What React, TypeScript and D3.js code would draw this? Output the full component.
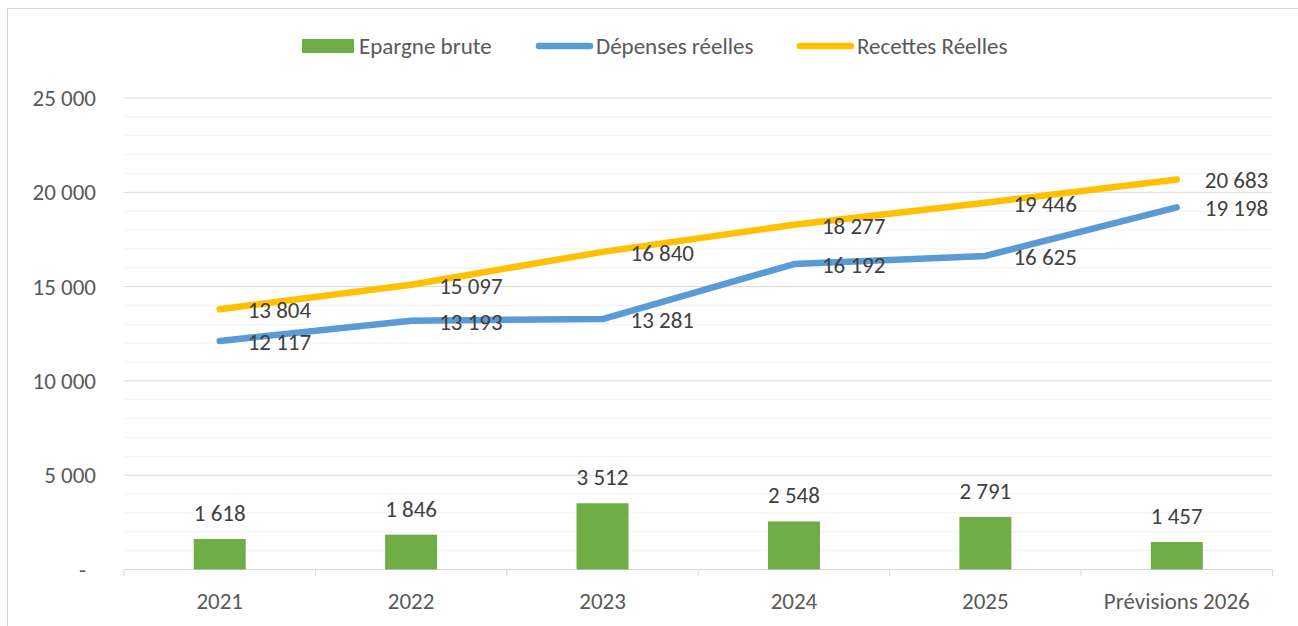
import React from "react";
import * as d3 from "d3";

// Values
const categories = ["2021", "2022", "2023", "2024", "2025", "Prévisions 2026"];
const epargneBrute = [1618, 1846, 3512, 2548, 2791, 1457];
const depensesReelles = [12117, 13193, 13281, 16192, 16625, 19198];
const recettesReelles = [13804, 15097, 16840, 18277, 19446, 20683];
const majorTicks = [0, 5000, 10000, 15000, 20000, 25000];

const WIDTH = 1298;
const HEIGHT = 626;
const FONT = "Carlito, Calibri, Lato, 'Open Sans', sans-serif";
const FS = 23;

const GREEN = "#70AD47";
const BLUE = "#5B9BD5";
const YELLOW = "#FFC000";

// number format with a space as thousands separator, "-" for zero
const fmt = (v: number) =>
  v === 0 ? "-" : d3.format(",")(v).replace(/,/g, " ");

export default function App() {
  const margin = { top: 98, right: 25.5, bottom: 56.5, left: 124 };
  const plotRight = WIDTH - margin.right;
  const plotBottom = HEIGHT - margin.bottom;

  const x = d3
    .scaleBand<string>()
    .domain(categories)
    .range([margin.left, plotRight])
    .paddingInner(0)
    .paddingOuter(0);
  const xc = (c: string) => (x(c) ?? 0) + x.bandwidth() / 2;

  const y = d3.scaleLinear().domain([0, 25000]).range([plotBottom, margin.top]);
  const minorTicks = d3.range(0, 25001, 1000).filter((t) => t % 5000 !== 0);

  const barWidth = 52;

  const line = d3
    .line<number>()
    .x((_, i) => xc(categories[i]))
    .y((d) => y(d));

  const boundaries = categories.map((c) => x(c) ?? 0).concat([plotRight]);

  const legendY = 46;

  return (
    <div style={{ position: "fixed", left: 0, top: 0 }}>
      <svg width={WIDTH} height={HEIGHT} style={{ display: "block", background: "#fff" }}>
        {/* chart area border (cropped at right/bottom in the reference) */}
        <rect x={7.5} y={8.5} width={WIDTH + 20} height={HEIGHT + 20} fill="#fff" stroke="#d9d9d9" />

        {/* minor gridlines */}
        {minorTicks.map((t) => (
          <line key={"m" + t} x1={margin.left} x2={plotRight} y1={y(t)} y2={y(t)} stroke="#f2f2f2" strokeWidth={1} />
        ))}
        {/* major gridlines */}
        {majorTicks.map((t) => (
          <line key={"M" + t} x1={margin.left} x2={plotRight} y1={y(t)} y2={y(t)} stroke="#d9d9d9" strokeWidth={1} />
        ))}

        {/* y axis labels */}
        {majorTicks.map((t) => (
          <text
            key={"yl" + t}
            x={t === 0 ? 86 : 96}
            y={y(t)}
            dy="0.35em"
            textAnchor="end"
            fontFamily={FONT}
            fontSize={FS}
            fill="#595959"
          >
            {fmt(t)}
          </text>
        ))}

        {/* x axis */}
        <line x1={margin.left} x2={plotRight} y1={plotBottom} y2={plotBottom} stroke="#d9d9d9" />
        {boundaries.map((b, i) => (
          <line key={"tk" + i} x1={b} x2={b} y1={plotBottom} y2={plotBottom + 7} stroke="#d9d9d9" />
        ))}
        {categories.map((c) => (
          <text key={"xl" + c} x={xc(c)} y={609} textAnchor="middle" fontFamily={FONT} fontSize={FS} fill="#595959">
            {c}
          </text>
        ))}

        {/* bars */}
        {epargneBrute.map((v, i) => (
          <g key={"b" + i}>
            <rect
              x={xc(categories[i]) - barWidth / 2}
              y={y(v)}
              width={barWidth}
              height={plotBottom - y(v)}
              fill={GREEN}
            />
            <text
              x={xc(categories[i])}
              y={y(v) - 18}
              textAnchor="middle"
              fontFamily={FONT}
              fontSize={FS}
              fill="#404040"
            >
              {fmt(v)}
            </text>
          </g>
        ))}

        {/* lines */}
        <path d={line(depensesReelles) ?? ""} fill="none" stroke={BLUE} strokeWidth={6.5} strokeLinecap="round" strokeLinejoin="round" />
        <path d={line(recettesReelles) ?? ""} fill="none" stroke={YELLOW} strokeWidth={6.5} strokeLinecap="round" strokeLinejoin="round" />

        {/* line labels, placed to the right of each point */}
        {[depensesReelles, recettesReelles].map((series, s) =>
          series.map((v, i) => (
            <text
              key={"ll" + s + "-" + i}
              x={xc(categories[i]) + 28}
              y={y(v) + 9}
              fontFamily={FONT}
              fontSize={FS}
              fill="#404040"
            >
              {fmt(v)}
            </text>
          ))
        )}

        {/* legend */}
        <rect x={302} y={legendY - 7} width={52} height={14} fill={GREEN} />
        <text x={359} y={legendY} dy="0.35em" fontFamily={FONT} fontSize={FS} fill="#595959">
          Epargne brute
        </text>
        <line x1={539} x2={590} y1={legendY} y2={legendY} stroke={BLUE} strokeWidth={6.5} strokeLinecap="round" />
        <text x={596} y={legendY} dy="0.35em" fontFamily={FONT} fontSize={FS} fill="#595959">
          Dépenses réelles
        </text>
        <line x1={800} x2={851} y1={legendY} y2={legendY} stroke={YELLOW} strokeWidth={6.5} strokeLinecap="round" />
        <text x={857} y={legendY} dy="0.35em" fontFamily={FONT} fontSize={FS} fill="#595959">
          Recettes Réelles
        </text>
      </svg>
    </div>
  );
}
